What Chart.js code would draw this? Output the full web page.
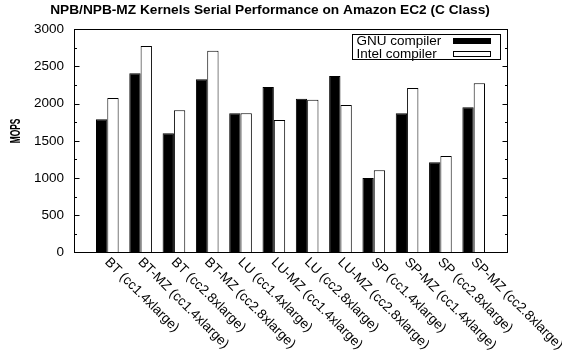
<!DOCTYPE html>
<html>
<head>
<meta charset="utf-8">
<script src="https://cdn.jsdelivr.net/npm/chart.js@4/dist/chart.umd.min.js"></script>
<style>
  html, body { margin: 0; padding: 0; background: #fff; }
  #wrap { width: 562px; height: 356px; }
</style>
</head>
<body>
<div id="wrap"><canvas id="c" width="562" height="356"></canvas></div>
<script>
// Benchmark kernels and instance types
const categories = [
  'BT (cc1.4xlarge)', 'BT-MZ (cc1.4xlarge)', 'BT (cc2.8xlarge)', 'BT-MZ (cc2.8xlarge)',
  'LU (cc1.4xlarge)', 'LU-MZ (cc1.4xlarge)', 'LU (cc2.8xlarge)', 'LU-MZ (cc2.8xlarge)',
  'SP (cc1.4xlarge)', 'SP-MZ (cc1.4xlarge)', 'SP (cc2.8xlarge)', 'SP-MZ (cc2.8xlarge)'
];
// Serial performance in MOPS
const gnuMops   = [1789, 2408, 1601, 2327, 1870, 2224, 2067, 2372, 1000, 1870, 1211, 1951];
const intelMops = [2076, 2775, 1910, 2712, 1870, 1780, 2053, 1982, 1103, 2210, 1296, 2274];
const seriesNames = ['GNU compiler', 'Intel compiler'];
const yTickValues = [0, 500, 1000, 1500, 2000, 2500, 3000];
const chartTitle = 'NPB/NPB-MZ Kernels Serial Performance on Amazon EC2 (C Class)';
const yAxisTitle = 'MOPS';

const FONT = '"Liberation Sans", Arial, Helvetica, sans-serif';
Chart.defaults.color = '#000';
Chart.defaults.font.family = FONT;

// Frame, inward tick marks, rotated category labels, legend and titles
const decorations = {
  id: 'decorations',
  afterDraw(chart) {
    const ctx = chart.ctx;
    const { left, right, top, bottom } = chart.chartArea;
    const ys = chart.scales.y;
    const xs = chart.scales.x;
    ctx.save();

    // plot border
    ctx.strokeStyle = '#000';
    ctx.lineWidth = 1;
    const L = Math.round(left) + 0.5, R = Math.round(right) + 0.5;
    const T = Math.round(top) + 0.5, B = Math.round(bottom) + 0.5;
    ctx.strokeRect(L, T, R - L, B - T);

    // major and minor y ticks on both sides, pointing inward
    ctx.beginPath();
    const ticks = ys.ticks;
    ticks.forEach((t, k) => {
      const y = Math.round(ys.getPixelForValue(t.value)) + 0.5;
      ctx.moveTo(L, y); ctx.lineTo(L + 5, y);
      ctx.moveTo(R, y); ctx.lineTo(R - 5, y);
      if (k < ticks.length - 1) {
        const ym = Math.round(ys.getPixelForValue((t.value + ticks[k + 1].value) / 2)) + 0.5;
        ctx.moveTo(L, ym); ctx.lineTo(L + 2.5, ym);
        ctx.moveTo(R, ym); ctx.lineTo(R - 2.5, ym);
      }
    });
    ctx.stroke();

    // category labels, rotated down to the right
    ctx.fillStyle = '#000';
    ctx.font = '13.5px ' + FONT;
    ctx.textAlign = 'left';
    ctx.textBaseline = 'middle';
    categories.forEach((label, i) => {
      const x = xs.getPixelForValue(i);
      ctx.save();
      ctx.translate(x - 0.5, bottom + 7.7);
      ctx.rotate(Math.PI / 4);
      ctx.fillText(label, 0, 0);
      ctx.restore();
    });

    // legend (text first, sample box to its right)
    const lg = { x0: 352.5, y0: 34.5, x1: 500.5, y1: 59.5 };
    ctx.strokeRect(lg.x0, lg.y0, lg.x1 - lg.x0, lg.y1 - lg.y0);
    chart.data.datasets.forEach((ds, i) => {
      const cy = 41 + i * 13.3;
      ctx.fillStyle = '#000';
      ctx.fillText(ds.label, 356.5, cy);
      ctx.fillStyle = ds.backgroundColor;
      ctx.fillRect(453, Math.round(cy) - 2.5, 38, 5);
      ctx.strokeStyle = '#000';
      ctx.strokeRect(453.5, Math.round(cy) - 2.5, 37, 5);
    });

    // chart title
    ctx.fillStyle = '#000';
    ctx.font = 'bold 13.7px ' + FONT;
    ctx.textAlign = 'center';
    ctx.textBaseline = 'alphabetic';
    ctx.fillText(chartTitle, 270, 14);

    // y axis title (narrow, rotated)
    ctx.save();
    ctx.translate(16.3, 131);
    ctx.rotate(-Math.PI / 2);
    ctx.scale(0.56, 1);
    ctx.font = 'bold 15px ' + FONT;
    ctx.textAlign = 'center';
    ctx.textBaseline = 'middle';
    ctx.fillText(yAxisTitle, 0, 0);
    ctx.restore();

    ctx.restore();
  }
};

const toPoints = vals => vals.map((v, i) => ({ x: i, y: v }));

new Chart(document.getElementById('c'), {
  type: 'bar',
  data: {
    datasets: [
      {
        label: seriesNames[0],
        data: toPoints(gnuMops),
        backgroundColor: '#000000',
        borderColor: '#000000',
        borderWidth: 1,
        borderSkipped: 'bottom'
      },
      {
        label: seriesNames[1],
        data: toPoints(intelMops),
        backgroundColor: '#ffffff',
        borderColor: '#000000',
        borderWidth: 1,
        borderSkipped: 'bottom'
      }
    ]
  },
  options: {
    responsive: false,
    animation: false,
    devicePixelRatio: 1,
    layout: { padding: { left: 0, top: 29.3, right: 55, bottom: 103.7 } },
    datasets: { bar: { categoryPercentage: 0.68, barPercentage: 1.0 } },
    plugins: {
      legend: { display: false },
      title: { display: false },
      tooltip: { enabled: false }
    },
    scales: {
      x: {
        type: 'linear',
        display: false,
        min: -1,
        max: categories.length,
        offset: false,
        ticks: { stepSize: 1 }
      },
      y: {
        min: 0,
        max: 3000,
        afterBuildTicks: s => { s.ticks = yTickValues.map(v => ({ value: v })); },
        afterFit: s => { s.width = 74; },
        grid: { display: false, drawTicks: false },
        border: { display: false },
        ticks: {
          padding: 10,
          color: '#000',
          font: { size: 13.5, family: FONT },
          callback: v => String(v)
        }
      }
    }
  },
  plugins: [decorations]
});
</script>
</body>
</html>
